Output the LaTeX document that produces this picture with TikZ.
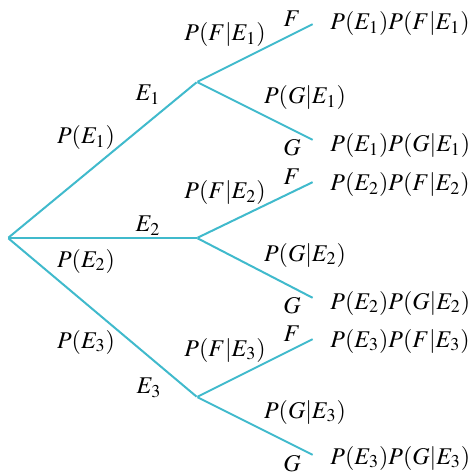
\documentclass[tikz,border=0pt]{standalone}
\usepackage{amssymb,amsmath}
\usepackage{mathptmx}
\usepackage{tikz}
\usetikzlibrary{positioning}
\definecolor{treeblue}{RGB}{64,186,204}

\begin{document}
\begin{tikzpicture}[x=0.5pt,y=-0.5pt]
	 \tikzstyle{vertex}=[inner sep=0pt,minimum size=0pt]
	 \tikzstyle{edge} = [draw,line width=1pt,-,treeblue]
	 \tikzstyle{lbl}=[inner sep=0pt,font=\fontsize{12}{14}\selectfont]
	 \useasboundingbox (0,0) rectangle (472,475);
	 % branch points
	 \node[vertex] (r) at (8,238) {};
	 \node[vertex] (e1) at (197,82) {};
	 \node[vertex] (e2) at (197,238) {};
	 \node[vertex] (e3) at (197,397) {};
	 % leaves
	 \node[vertex] (f1) at (313,24) {};
	 \node[vertex] (g1) at (313,140) {};
	 \node[vertex] (f2) at (313,182) {};
	 \node[vertex] (g2) at (313,298) {};
	 \node[vertex] (f3) at (313,339) {};
	 \node[vertex] (g3) at (313,455) {};

	 \draw[edge] (r) -- (e1);
	 \draw[edge] (r) -- (e2);
	 \draw[edge] (r) -- (e3);
	 \draw[edge] (f1) -- (e1) -- (g1);
	 \draw[edge] (f2) -- (e2) -- (g2);
	 \draw[edge] (f3) -- (e3) -- (g3);

	 % first stage
	 \node[lbl] (pe1) at (86,138) {$P(E_1)$};
	 \node[lbl] (ne1) at (148,95) {$E_1$};
	 \node[lbl] (pe2) at (86,261) {$P(E_2)$};
	 \node[lbl] (ne2) at (148,226) {$E_2$};
	 \node[lbl] (pe3) at (86,342) {$P(E_3)$};
	 \node[lbl] (ne3) at (149,388) {$E_3$};

	 % second stage
	 \node[lbl] (pf1) at (225,35) {$P(F|E_1)$};
	 \node[lbl] (pg1) at (305,98) {$P(G|E_1)$};
	 \node[lbl] (pf2) at (225,193) {$P(F|E_2)$};
	 \node[lbl] (pg2) at (305,255) {$P(G|E_2)$};
	 \node[lbl] (pf3) at (225,350) {$P(F|E_3)$};
	 \node[lbl] (pg3) at (305,412) {$P(G|E_3)$};

	 \node[lbl] (nf1) at (292,19) {$F$};
	 \node[lbl] (ng1) at (292,148) {$G$};
	 \node[lbl] (nf2) at (292,177) {$F$};
	 \node[lbl] (ng2) at (292,306) {$G$};
	 \node[lbl] (nf3) at (292,334) {$F$};
	 \node[lbl] (ng3) at (292,464) {$G$};

	 % products
	 \node[lbl,anchor=west] (r1) at (330,24) {$P(E_1)P(F|E_1)$};
	 \node[lbl,anchor=west] (r2) at (330,146) {$P(E_1)P(G|E_1)$};
	 \node[lbl,anchor=west] (r3) at (330,185) {$P(E_2)P(F|E_2)$};
	 \node[lbl,anchor=west] (r4) at (330,303) {$P(E_2)P(G|E_2)$};
	 \node[lbl,anchor=west] (r5) at (330,341) {$P(E_3)P(F|E_3)$};
	 \node[lbl,anchor=west] (r6) at (330,458) {$P(E_3)P(G|E_3)$};
 \end{tikzpicture}
\end{document}
